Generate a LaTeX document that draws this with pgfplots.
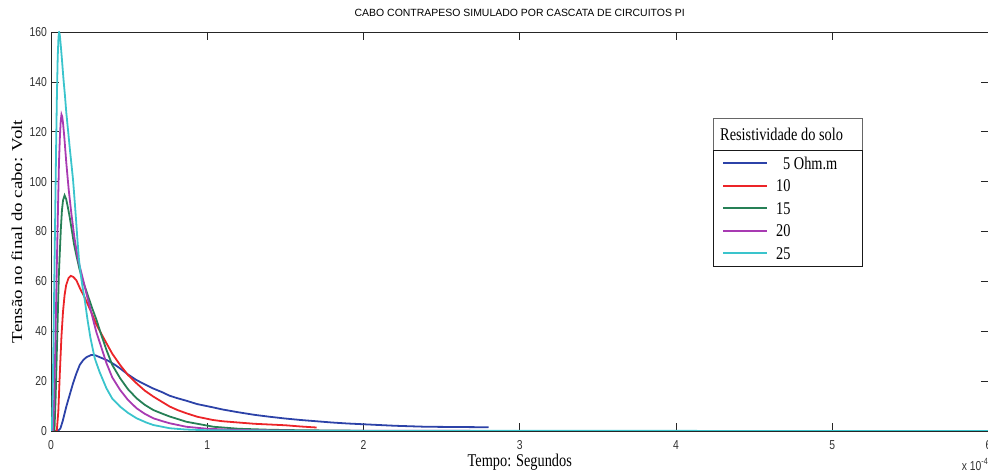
\documentclass[border=0pt]{standalone}
\usepackage{pgfplots}
\pgfplotsset{compat=1.18}
\usepackage{graphicx}
\usepackage{fontspec}
\newfontfamily\tickf[FakeStretch=0.8]{Liberation Sans}
\newfontfamily\titf{Liberation Sans}
\newfontfamily\tnr[FakeStretch=0.8]{Liberation Serif}
\newfontfamily\tnrv{Liberation Serif}

\definecolor{cblue}{RGB}{44,66,168}
\definecolor{cred}{RGB}{236,36,40}
\definecolor{cgreen}{RGB}{38,128,86}
\definecolor{cmag}{RGB}{168,58,178}
\definecolor{ccyan}{RGB}{58,196,204}

\begin{document}
\begin{tikzpicture}
\path[use as bounding box] (0,0) rectangle (988bp,473bp);
\begin{axis}[
    scale only axis,
    width=937.5bp, height=399bp,
    at={(51bp,42bp)}, anchor=south west,
    xmin=0, xmax=6, ymin=0, ymax=160,
    xtick={0,1,2,3,4,5,6},
    ytick={0,20,40,60,80,100,120,140,160},
    tick align=inside,
    xtick pos=both, ytick pos=both,
    major tick length=8bp,
    tick style={black!85, line width=0.6pt},
    axis line style={black!85, line width=0.9pt},
    /pgf/number format/assume math mode=true,
    ticklabel style={font=\tickf\fontsize{13}{13}\selectfont, text=black!80, inner sep=0pt},
    xticklabel style={anchor=north, yshift=-9bp},
    yticklabel style={anchor=east, xshift=-4bp},
    title={CABO CONTRAPESO SIMULADO POR CASCATA DE CIRCUITOS PI},
    title style={at={(axis description cs:0.5,1)}, anchor=base, yshift=10bp,
        inner sep=0pt, font=\titf\fontsize{10.5}{10.5}\selectfont},
    xlabel={Tempo: Segundos},
    xlabel style={at={(axis description cs:0.5,0)}, anchor=base, yshift=-35bp,
        inner sep=0pt, font=\tnr\fontsize{18}{18}\selectfont},
    ylabel={\scalebox{1}[0.8]{Tensão no final do cabo: Volt}},
    ylabel style={at={(axis description cs:0,0.5)}, anchor=center, yshift=34bp,
        inner sep=0pt, font=\tnrv\fontsize{19}{19}\selectfont},
    legend style={at={(rel axis cs:0.7061,0.7043)}, anchor=north west,
        draw=none, fill=none, inner xsep=9bp, inner ysep=7.3bp,
        row sep=10.5bp, column sep=8bp,
        font=\tnr\fontsize{18}{18}\selectfont,
        cells={anchor=west},
        nodes={inner sep=0pt, text height=12bp, text depth=0bp}},
    legend image code/.code={\draw[#1, line width=2pt] (0bp,0bp) -- (44bp,0bp);},
    every axis plot/.append style={line width=1.8pt},
]

\draw[black!60, line width=0.8pt, fill=white] (rel axis cs:0.7061,0.7043) rectangle (rel axis cs:0.8651,0.7845);
\draw[black!90, line width=0.9pt, fill=white] (rel axis cs:0.7061,0.4135) rectangle (rel axis cs:0.8651,0.7043);
\node[anchor=west, inner sep=0pt, font=\tnr\fontsize{18}{18}\selectfont] at (rel axis cs:0.7136,0.7444) {Resistividade do solo};

% 5 Ohm.m
\addplot[color=cblue] coordinates {
 (0,0) (0.045,0) (0.06,1) (0.075,4) (0.098,9.8) (0.122,15) (0.141,19.1)
 (0.162,23) (0.184,26.5) (0.207,28.5) (0.227,29.6) (0.258,30.5) (0.282,30.4)
 (0.312,29.6) (0.362,28.3) (0.41,26.5) (0.44,25.2) (0.49,22.8) (0.545,20.5)
 (0.60,18.7) (0.652,17.1) (0.71,15.6) (0.757,14.2) (0.806,13.2) (0.863,12.2)
 (0.935,10.8) (1.035,9.5) (1.1,8.6) (1.2,7.5) (1.3,6.5) (1.4,5.7) (1.5,5.0)
 (1.6,4.4) (1.7,3.9) (1.8,3.4) (1.9,3.0) (2.0,2.7) (2.1,2.4) (2.2,2.1)
 (2.3,1.9) (2.4,1.7) (2.6,1.6) (2.8,1.5)
};
\addlegendentry{\hspace{7bp}5 Ohm.m}

% 10
\addplot[color=cred] coordinates {
 (0,0) (0.037,0) (0.047,8) (0.057,24) (0.067,38) (0.077,48) (0.087,54.5)
 (0.097,58.5) (0.112,61.3) (0.127,62.2) (0.142,61.8) (0.162,60.5) (0.187,57)
 (0.212,54) (0.227,52) (0.262,47) (0.291,42.6) (0.322,39) (0.355,35.2)
 (0.392,31) (0.442,26.5) (0.492,22.5) (0.548,19.1) (0.60,16.2) (0.655,13.8)
 (0.71,11.7) (0.76,9.8) (0.81,8.4) (0.867,7.1) (0.937,5.7) (1.037,4.4)
 (1.1,3.9) (1.2,3.4) (1.3,2.9) (1.4,2.6) (1.5,2.3) (1.6,1.8) (1.7,1.4)
};
\addlegendentry{10}

% 15
\addplot[color=cgreen] coordinates {
 (0,0) (0.022,0) (0.03,14) (0.04,38) (0.05,62) (0.056,71) (0.063,81)
 (0.07,88.5) (0.077,92.5) (0.087,94.5) (0.097,93) (0.107,90) (0.119,86)
 (0.132,81) (0.147,75) (0.162,70.5) (0.182,65) (0.202,60.5) (0.227,56)
 (0.262,49.5) (0.291,44.6) (0.322,38.5) (0.355,32.5) (0.392,26.5) (0.442,21.2)
 (0.492,16.8) (0.548,13.1) (0.60,10.5) (0.655,8.4) (0.71,7) (0.76,5.8)
 (0.867,3.7) (1.04,1.7) (1.2,0.9) (1.4,0.5) (1.6,0.3) (2,0.1)
};
\addlegendentry{15}

% 20
\addplot[color=cmag] coordinates {
 (0,0) (0.012,0) (0.02,12) (0.028,35) (0.038,68.7) (0.045,90) (0.051,107.5)
 (0.057,118) (0.062,124) (0.067,126.9) (0.072,126) (0.077,123.5) (0.085,118)
 (0.098,107.5) (0.113,97) (0.13,87.4) (0.15,77.5) (0.173,68.7) (0.192,64)
 (0.212,59) (0.227,55) (0.252,49) (0.272,44) (0.291,39.5) (0.312,35.5)
 (0.355,27.2) (0.392,21.5) (0.442,16.5) (0.492,12.5) (0.548,9.1) (0.60,6.9)
 (0.655,5.1) (0.71,4) (0.76,3.1) (0.866,1.7) (1.0,0.9) (1.2,0.4) (1.5,0.15)
 (2,0.05) (6,0)
};
\addlegendentry{20}

% 25
\addplot[color=ccyan] coordinates {
 (0,0) (0.005,0) (0.01,12) (0.015,32) (0.02,55) (0.023,68.7) (0.028,92)
 (0.033,115) (0.038,135) (0.043,150) (0.048,158) (0.052,160) (0.056,159)
 (0.062,155) (0.07,149) (0.08,141) (0.09,134) (0.098,127.6) (0.11,120)
 (0.12,113.5) (0.13,107.5) (0.141,100.8) (0.15,93.5) (0.16,85) (0.17,76)
 (0.179,68.7) (0.19,63) (0.20,58.5) (0.216,52.6) (0.234,44.5) (0.252,37.5)
 (0.272,31.5) (0.28,29.2) (0.292,27) (0.312,23.5) (0.355,17.1) (0.392,13)
 (0.442,9.8) (0.492,7.3) (0.548,5.1) (0.61,3.4) (0.655,2.4) (0.76,1.1)
 (0.86,0.6) (1.0,0.3) (1.5,0.1) (6,0)
};
\addlegendentry{25}

\end{axis}
\node[anchor=base east, inner sep=0pt, font=\tickf\fontsize{13}{13}\selectfont, text=black!80]
  at (988bp,3bp) {x 10\raisebox{6bp}{\fontsize{9}{9}\selectfont -4}};
\end{tikzpicture}
\end{document}
